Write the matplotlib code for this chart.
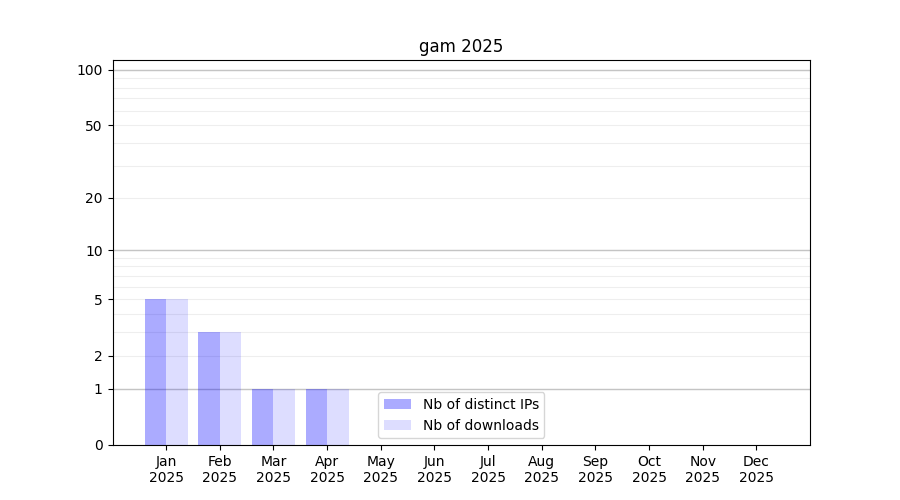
import numpy as np
import matplotlib.pyplot as plt

months = ['Jan', 'Feb', 'Mar', 'Apr', 'May', 'Jun', 'Jul', 'Aug', 'Sep', 'Oct', 'Nov', 'Dec']
year = '2025'
distinct_ips = [5, 3, 1, 1, 0, 0, 0, 0, 0, 0, 0, 0]
downloads = [5, 3, 1, 1, 0, 0, 0, 0, 0, 0, 0, 0]

major_ticks = [0, 1, 2, 5, 10, 20, 50, 100]
minor_ticks = [3, 4, 6, 7, 8, 9, 30, 40, 60, 70, 80, 90]
decade_lines = [1, 10, 100]


def fwd(y):
    return np.log10(1 + np.clip(y, 0, None))


def inv(y):
    return 10 ** y - 1


fig, ax = plt.subplots(figsize=(9, 5), dpi=100)
x = np.arange(len(months))
w = 0.4

ax.bar(x - w / 2, distinct_ips, w, color='blue', alpha=0.33, label='Nb of distinct IPs', zorder=2)
ax.bar(x + w / 2, downloads, w, color='blue', alpha=0.135, label='Nb of downloads', zorder=2)

ax.set_yscale('function', functions=(fwd, inv))
ax.set_ylim(0, 113)
ax.set_xlim(-1, 12)
ax.set_yticks(major_ticks)
ax.set_yticklabels([str(t) for t in major_ticks])
ax.set_yticks(minor_ticks, minor=True)
ax.tick_params(axis='y', which='minor', length=0)
ax.set_axisbelow(True)
ax.grid(True, axis='y', which='both', color='#eeeeee', linewidth=0.8)
for v in decade_lines:
    ax.axhline(v, color='#c4c4c4', linewidth=1.0, zorder=1)

ax.set_xticks(x)
ax.set_xticklabels([f'{m}\n{year}' for m in months])
ax.set_title('gam 2025')
ax.legend(loc='lower center')

fig.savefig('out.png')
